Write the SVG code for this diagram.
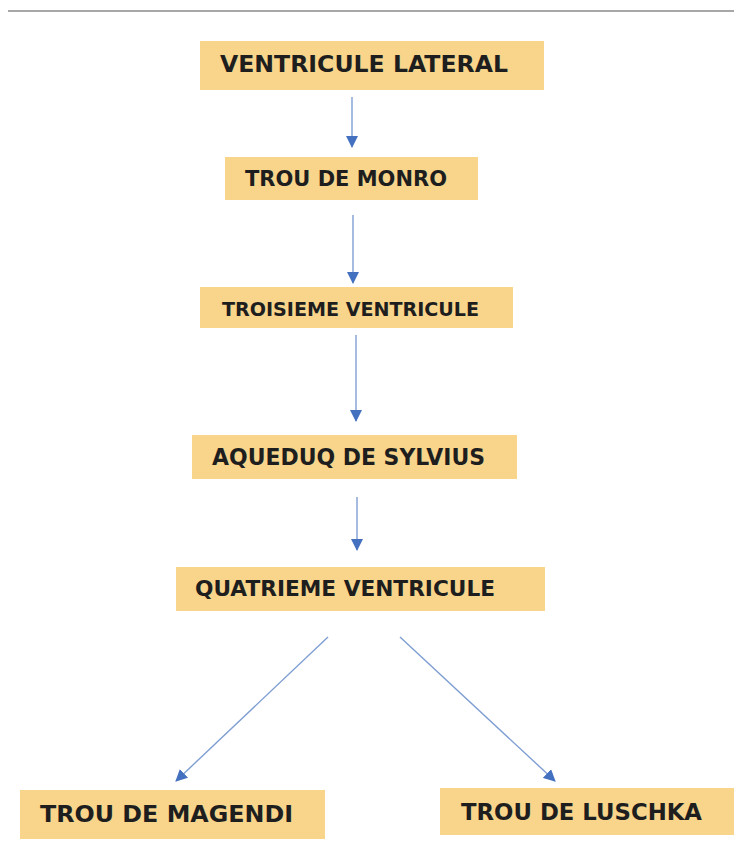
<svg xmlns="http://www.w3.org/2000/svg" width="734" height="867" viewBox="0 0 734 867">
<style>
.box{fill:#F8D58B;}
.lbl{font-family:"DejaVu Sans","Liberation Sans",sans-serif;font-weight:bold;fill:#1e1e1e;}
.conn{stroke:#7E9ED2;stroke-width:1.4;fill:none;}
</style>
<defs>
<marker id="ah" markerWidth="12" markerHeight="12" refX="11" refY="6" orient="auto" markerUnits="userSpaceOnUse">
<path d="M0,0 L12,6 L0,12 Z" fill="#4470C0"/>
</marker>
</defs>
<rect width="734" height="867" fill="#ffffff"/>
<line x1="8" y1="11" x2="734" y2="11" stroke="#8a8a8a" stroke-width="1.5"/>
<g id="connectors">
<line class="conn" x1="352" y1="97" x2="352" y2="147" marker-end="url(#ah)"/>
<line class="conn" x1="353" y1="215" x2="353" y2="283" marker-end="url(#ah)"/>
<line class="conn" x1="356" y1="335" x2="356" y2="421" marker-end="url(#ah)"/>
<line class="conn" x1="357" y1="497" x2="357" y2="550" marker-end="url(#ah)"/>
<line class="conn" x1="328" y1="637" x2="176" y2="781" marker-end="url(#ah)"/>
<line class="conn" x1="400" y1="637" x2="555" y2="781" marker-end="url(#ah)"/>
</g>
<g id="n1"><rect class="box" x="200" y="41" width="344" height="49"/><text class="lbl" x="220" y="72" font-size="23" textLength="288" lengthAdjust="spacingAndGlyphs">VENTRICULE LATERAL</text></g>
<g id="n2"><rect class="box" x="225" y="157" width="253" height="43"/><text class="lbl" x="245" y="186" font-size="22" textLength="202" lengthAdjust="spacingAndGlyphs">TROU DE MONRO</text></g>
<g id="n3"><rect class="box" x="200" y="287" width="313" height="41"/><text class="lbl" x="222" y="316" font-size="20" textLength="257" lengthAdjust="spacingAndGlyphs">TROISIEME VENTRICULE</text></g>
<g id="n4"><rect class="box" x="192" y="435" width="325" height="44"/><text class="lbl" x="212" y="465" font-size="23" textLength="273" lengthAdjust="spacingAndGlyphs">AQUEDUQ DE SYLVIUS</text></g>
<g id="n5"><rect class="box" x="176" y="567" width="369" height="44"/><text class="lbl" x="195" y="596" font-size="22" textLength="300" lengthAdjust="spacingAndGlyphs">QUATRIEME VENTRICULE</text></g>
<g id="n6"><rect class="box" x="20" y="790" width="305" height="49"/><text class="lbl" x="40" y="822" font-size="23" textLength="253" lengthAdjust="spacingAndGlyphs">TROU DE MAGENDI</text></g>
<g id="n7"><rect class="box" x="440" y="788" width="294" height="47"/><text class="lbl" x="461" y="820" font-size="23" textLength="241" lengthAdjust="spacingAndGlyphs">TROU DE LUSCHKA</text></g>
</svg>
